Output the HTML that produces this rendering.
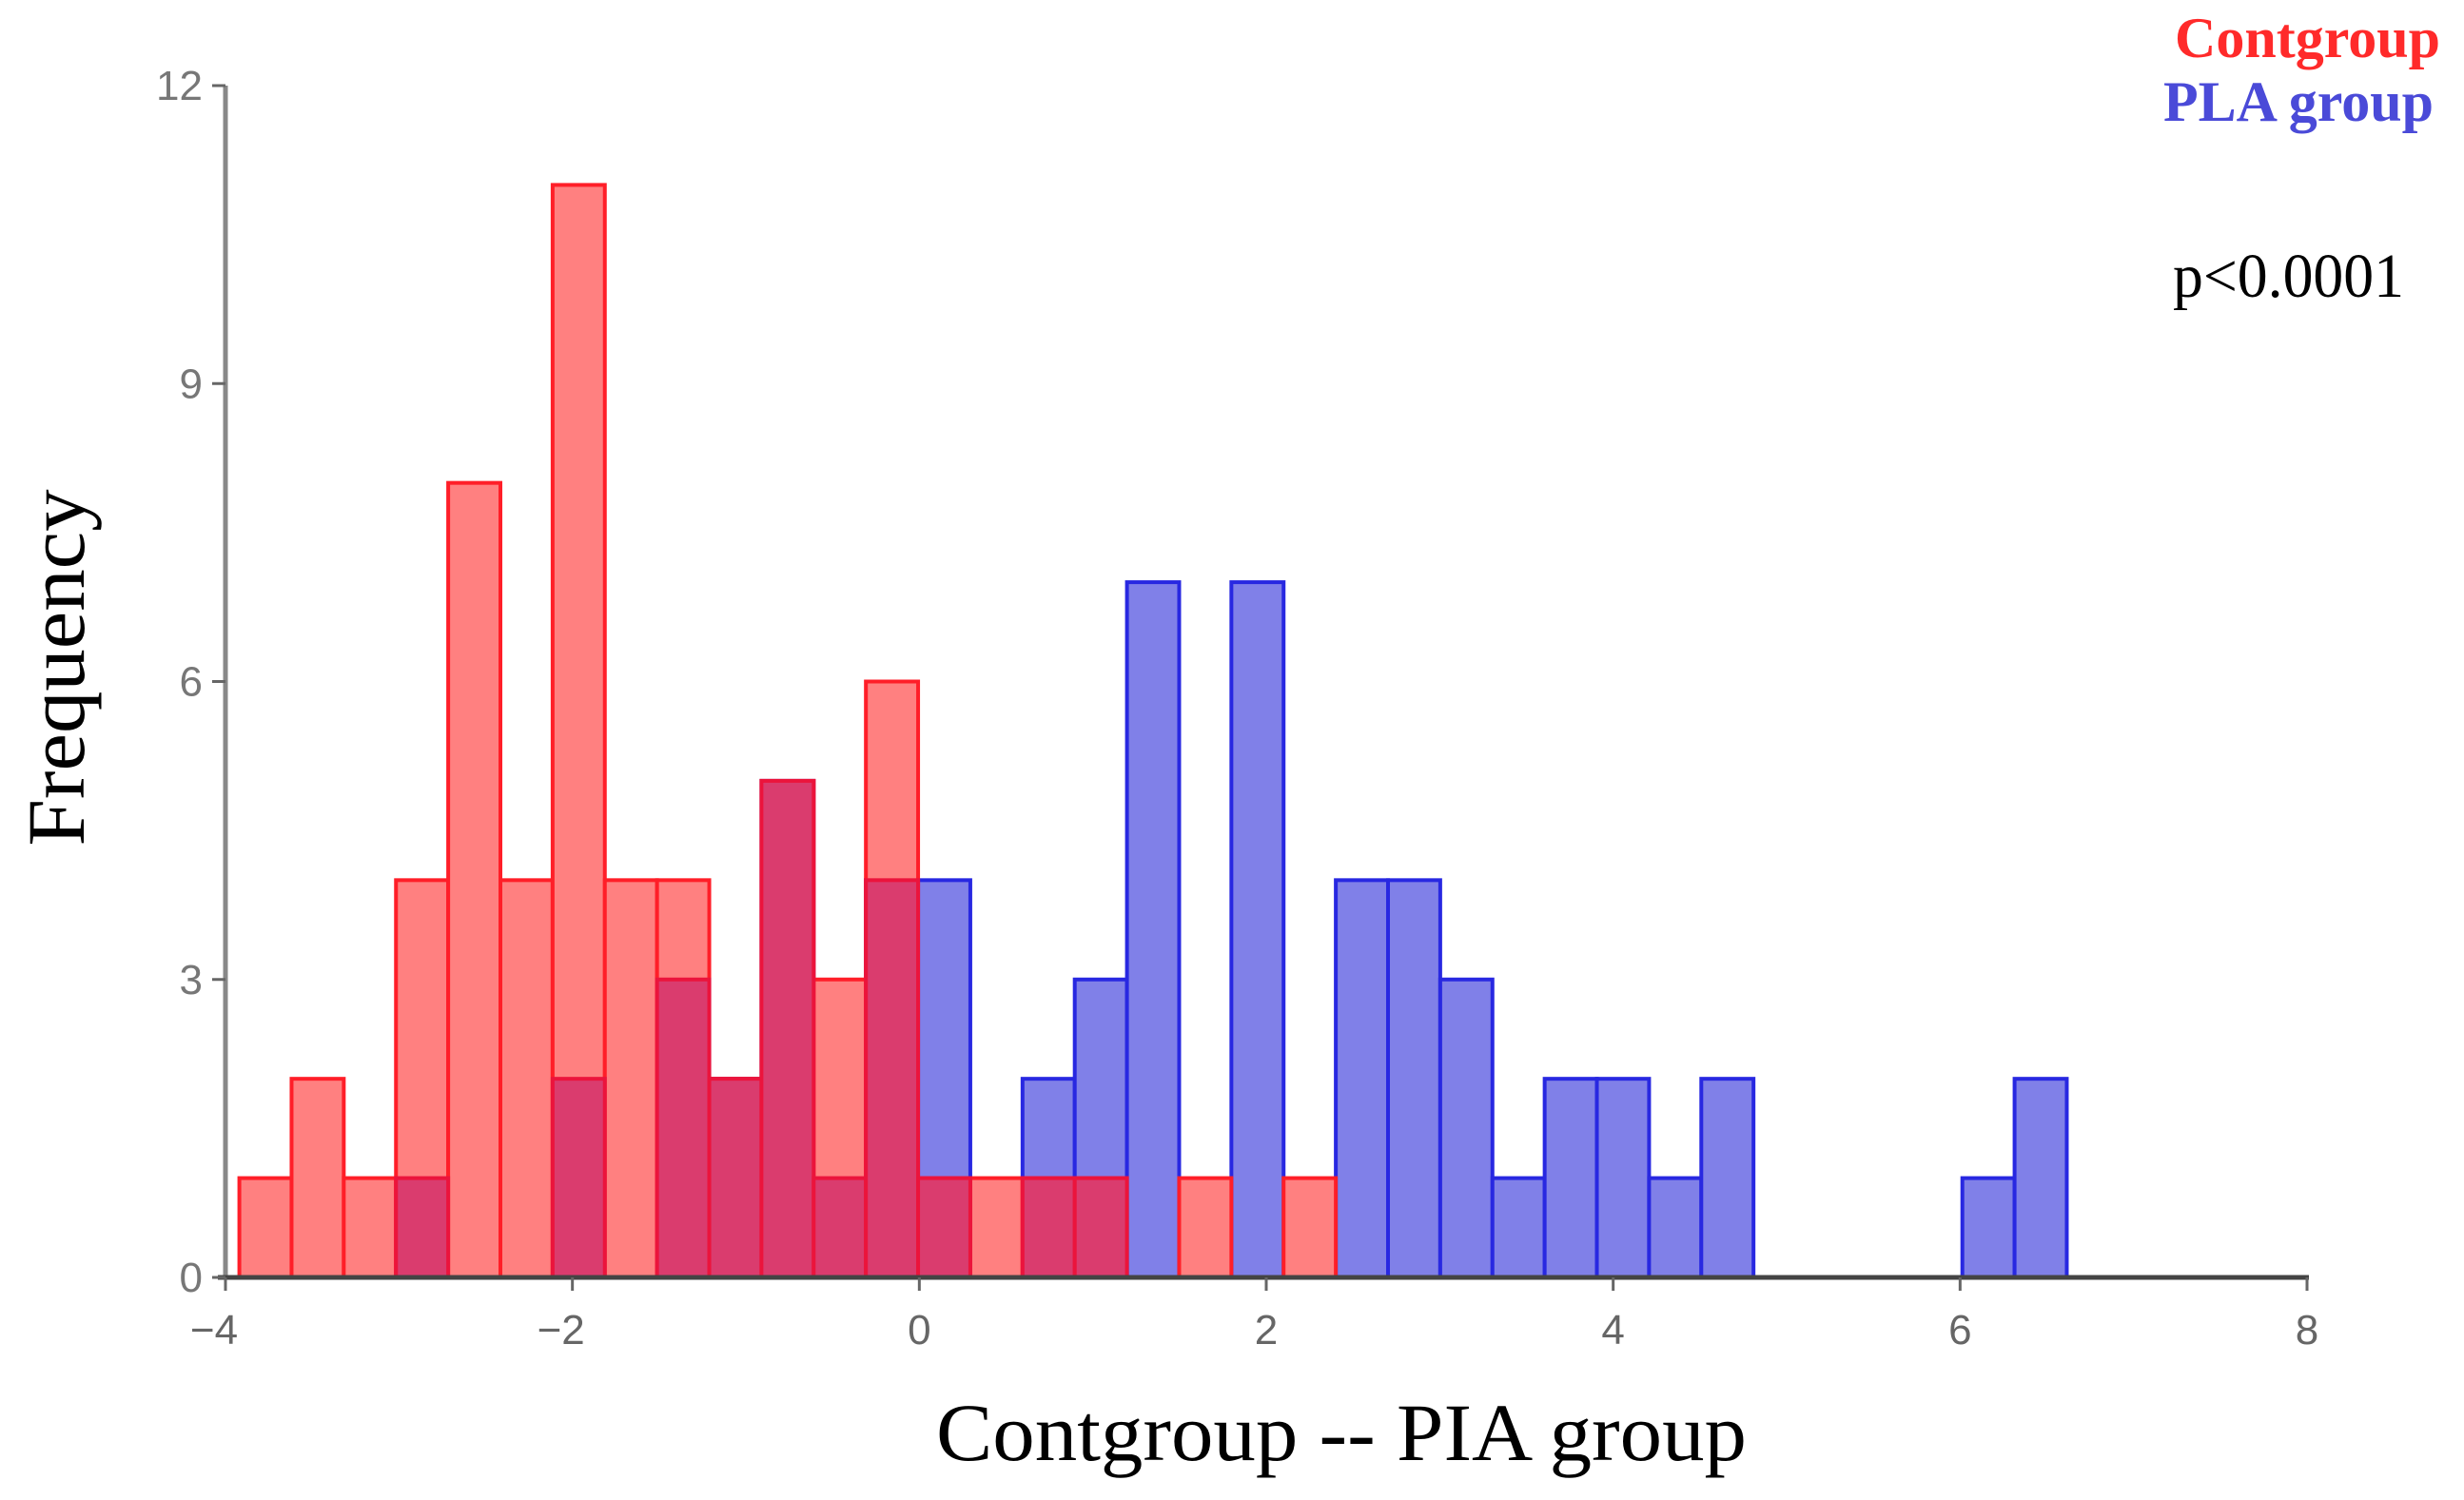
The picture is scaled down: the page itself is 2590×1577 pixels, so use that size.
<!DOCTYPE html>
<html><head><meta charset="utf-8"><style>
html,body{margin:0;padding:0;background:#fff;}
svg{display:block;}
</style></head><body>
<svg id="chart" width="2590" height="1577" viewBox="0 0 2590 1577" xmlns="http://www.w3.org/2000/svg">
<g id="bars-blue"></g>
<g id="bars-red"></g>
<g id="bars-overlap"></g>
<g id="axes"></g>
<text transform="translate(88,702) rotate(-90)" text-anchor="middle" font-family="Liberation Serif, serif" font-size="86" textLength="375" lengthAdjust="spacingAndGlyphs" fill="#000">Frequency</text>
<text x="1410" y="1535" text-anchor="middle" font-family="Liberation Serif, serif" font-size="86" textLength="852" lengthAdjust="spacingAndGlyphs" fill="#000">Contgroup -- PIA group</text>
<text x="2565" y="60" text-anchor="end" font-family="Liberation Serif, serif" font-weight="bold" font-size="60" fill="#ff2a2a">Contgroup</text>
<text x="2558" y="127" text-anchor="end" font-family="Liberation Serif, serif" font-weight="bold" font-size="60" fill="#4a4ad8">PLA group</text>
<text x="2284" y="312" font-family="Liberation Serif, serif" font-size="66" textLength="243" lengthAdjust="spacingAndGlyphs" fill="#000">p&lt;0.0001</text>
</svg>
<script>
const binStart = -3.92;
const binWidth = 0.301;
const redCounts = [1,2,1,4,8,4,11,4,4,2,5,3,6,1,1,1,1,0,1,0,1];
const blueCounts = [0,0,0,1,0,0,2,0,3,2,5,1,4,4,0,2,3,7,0,7,0,4,4,3,1,2,2,1,2,0,0,0,0,1,2];
const xTicks = [-4,-2,0,2,4,6,8];
const xTickLabels = ["\u22124","\u22122","0","2","4","6","8"];
const yTicks = [0,3,6,9,12];
const yTickLabels = ["0","3","6","9","12"];

const NS = "http://www.w3.org/2000/svg";
const X0 = 237, X1 = 2425, Y0 = 1343, Y1 = 90;
function xs(v){ return X0 + (v + 4) / 12 * (X1 - X0); }
function ys(v){ return Y0 - v / 12 * (Y0 - Y1); }
function mk(tag, attrs, parent){
  const e = document.createElementNS(NS, tag);
  for (const k in attrs) e.setAttribute(k, attrs[k]);
  parent.appendChild(e);
  return e;
}
function drawBars(counts, gid, fill, stroke, nm){
  const g = document.getElementById(gid);
  counts.forEach((c, i) => {
    if (c <= 0) return;
    const a = binStart + i * binWidth, b = a + binWidth;
    const r = mk('rect', {x: xs(a), y: ys(c), width: xs(b) - xs(a), height: ys(0) - ys(c),
      fill: fill, stroke: stroke, 'stroke-width': 4}, g);
    
    
  });
}
drawBars(blueCounts, 'bars-blue', 'rgb(128,128,232)', 'rgb(40,40,225)', 'pla');
drawBars(redCounts, 'bars-red', 'rgb(255,128,128)', 'rgb(255,30,40)', 'cont');
const overlapCounts = redCounts.map((r, i) => Math.min(r, blueCounts[i] || 0));
drawBars(overlapCounts, 'bars-overlap', 'rgb(218,60,110)', 'rgb(235,20,60)', 'overlap');

const ax = document.getElementById('axes');
const yl = mk('line', {x1: X0, y1: Y1, x2: X0, y2: Y0, stroke: '#888', 'stroke-width': 5}, ax);


const xl = mk('line', {x1: X0 - 8, y1: Y0, x2: X1 + 2, y2: Y0, stroke: '#444', 'stroke-width': 5}, ax);


yTicks.forEach((t, i) => {
  const tk = mk('line', {x1: X0 - 14, y1: ys(t), x2: X0, y2: ys(t), stroke: '#666', 'stroke-width': 3}, ax);
  
  
  const tx = mk('text', {x: X0 - 24, y: ys(t) + 15, 'text-anchor': 'end', 'font-family': 'Liberation Sans, sans-serif',
    'font-size': 44, fill: '#777'}, ax);
  tx.textContent = yTickLabels[i];
  
  
});
xTicks.forEach((t, i) => {
  const tk = mk('line', {x1: xs(t), y1: Y0, x2: xs(t), y2: Y0 + 14, stroke: '#666', 'stroke-width': 3}, ax);
  
  
  const tx = mk('text', {x: xs(t) - (t < 0 ? 12 : 0), y: Y0 + 70, 'text-anchor': 'middle', 'font-family': 'Liberation Sans, sans-serif',
    'font-size': 44, fill: '#666'}, ax);
  tx.textContent = xTickLabels[i];
  
  
});
</script>
</body></html>
